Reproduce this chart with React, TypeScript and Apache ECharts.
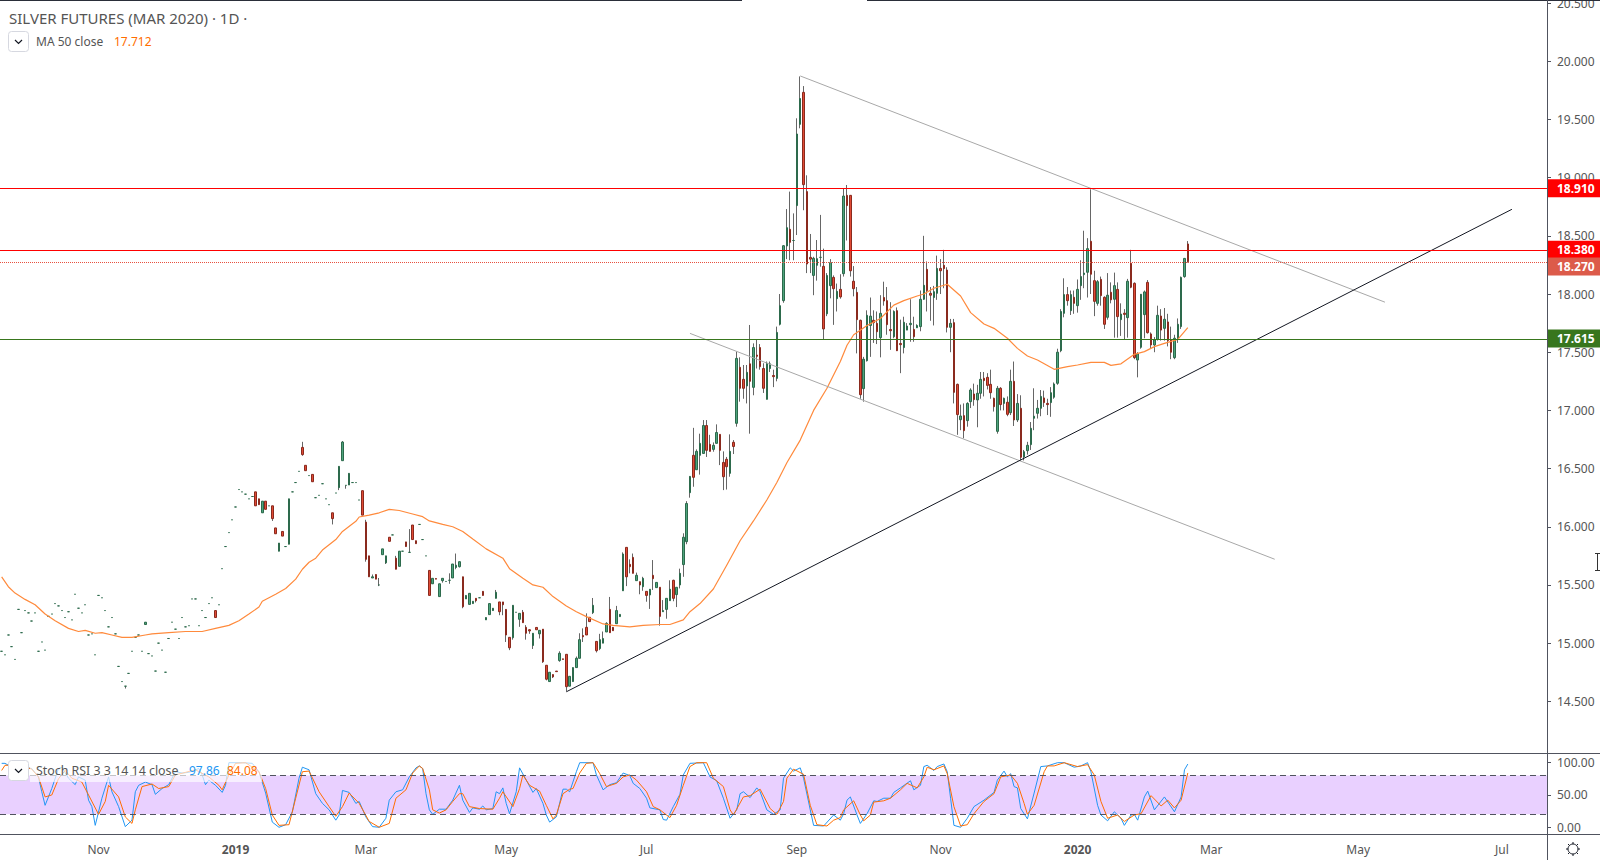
import * as echarts from 'echarts';
import { useEffect, useRef } from 'react';

const FONT = '"Noto Sans", sans-serif';

// number of daily slots on the time axis, including the empty future ones
const slotCount = 463;
const tickBars = [29, 70, 109, 151, 193, 238, 281, 322, 362, 406, 449];
const tickLabels = ['Nov', '2019', 'Mar', 'May', 'Jul', 'Sep', 'Nov', '2020', 'Mar', 'May', 'Jul'];
const priceTicks = [14.5, 15, 15.5, 16, 16.5, 17, 17.5, 18, 18.5, 19, 19.5, 20, 20.5];
const stochTicks = [0, 50, 100];

// open, close, low, high (low and high left out when there is no wick)
const bars: number[][] = [
  [14.93, 14.93], [14.9, 14.9], [15.07, 15.07], [14.97, 14.97], [14.86, 14.86], [15.29, 15.29], [15.09, 15.09], [15.28, 15.28],
  [15.26, 15.26], [15.19, 15.19], [15.26, 15.26], [14.93, 14.93], [15.01, 15.01], [14.94, 14.94], [15.23, 15.23], [15.25, 15.25],
  [15.34, 15.34], [15.32, 15.32], [15.28, 15.28], [15.22, 15.22], [15.27, 15.27], [15.2, 15.2], [15.42, 15.42], [15.3, 15.3],
  [15.26, 15.26], [15.33, 15.33], [15.07, 15.07], [15.08, 15.08], [14.9, 14.9], [15.41, 15.41], [15.39, 15.39], [15.28, 15.28],
  [15.14, 15.14], [15.22, 15.22], [15.08, 15.08], [14.8, 14.8], [14.67, 14.67], [14.63, 14.63, 14.61, 14.63], [14.74, 14.74], [14.93, 14.93],
  [15.05, 15.05], [15.07, 15.07], [14.93, 14.93], [15.16, 15.18], [14.91, 14.91], [14.89, 14.89], [14.76, 14.76], [15.0, 15.0],
  [14.94, 14.94], [14.75, 14.75], [15.04, 15.04], [15.18, 15.18], [15.12, 15.12], [15.04, 15.04], [15.22, 15.22], [15.14, 15.14],
  [15.15, 15.15], [15.38, 15.38], [15.38, 15.38], [15.15, 15.15], [15.28, 15.28], [15.22, 15.22], [15.34, 15.34], [15.39, 15.39],
  [15.28, 15.22], [15.33, 15.33], [15.64, 15.64], [15.83, 15.83], [15.95, 15.95], [16.06, 16.06], [16.17, 16.17], [16.32, 16.32],
  [16.3, 16.3], [16.28, 16.28], [16.24, 16.24], [16.26, 16.26], [16.3, 16.18], [16.24, 16.19], [16.12, 16.22], [16.22, 16.15],
  [16.18, 16.18], [16.18, 16.07, 16.05, 16.18], [15.99, 15.94], [15.79, 15.86], [15.96, 15.92], [15.83, 15.83], [15.85, 16.24], [16.3, 16.3],
  [16.38, 16.38], [16.476, 16.476], [16.682, 16.62, 16.61, 16.73], [16.528, 16.482], [16.44, 16.44], [16.45, 16.387], [16.25, 16.25], [16.27, 16.27],
  [16.37, 16.37], [16.24, 16.24], [16.19, 16.19], [16.12, 16.07, 16.02, 16.12], [16.29, 16.29], [16.336, 16.519, 16.315, 16.519], [16.568, 16.728, 16.568, 16.737], [16.356, 16.356, 16.327, 16.356],
  [16.359, 16.459], [16.38, 16.38], [16.38, 16.38], [16.23, 16.23], [16.31, 16.1], [16.04, 15.72, 15.7, 16.06], [15.75, 15.57], [15.56, 15.57, 15.56, 15.59],
  [15.59, 15.55], [15.5, 15.5, 15.49, 15.56], [15.76, 15.81], [15.69, 15.75, 15.68, 15.75], [15.91, 15.875], [15.93, 15.93], [15.73, 15.635, 15.635, 15.75], [15.66, 15.79],
  [15.79, 15.79], [15.87, 15.83], [15.78, 15.78, 15.78, 15.98], [16.015, 15.89], [15.88, 15.855], [16.02, 16.02], [15.89, 15.89], [15.75, 15.75],
  [15.625, 15.41], [15.51, 15.557], [15.555, 15.55], [15.4, 15.51], [15.537, 15.557, 15.52, 15.557], [15.53, 15.53], [15.54, 15.54, 15.51, 15.6], [15.56, 15.68],
  [15.65, 15.67, 15.635, 15.77], [15.657, 15.7, 15.65, 15.7], [15.57, 15.313, 15.3, 15.57], [15.38, 15.41], [15.333, 15.428], [15.34, 15.36], [15.385, 15.365, 15.35, 15.385], [15.39, 15.39],
  [15.445, 15.41], [15.2, 15.22], [15.245, 15.34], [15.28, 15.3], [15.385, 15.437, 15.385, 15.457], [15.354, 15.27, 15.24, 15.354], [15.354, 15.33, 15.24, 15.354], [15.29, 15.07, 15.01, 15.29],
  [15.05, 14.96, 14.94, 15.05], [15.047, 15.325, 15.03, 15.325], [15.265, 15.265], [15.205, 15.256, 15.14, 15.256], [15.265, 15.176, 15.176, 15.285], [15.136, 15.085, 15.03, 15.155], [15.115, 15.105, 15.08, 15.12], [14.98, 15.085, 14.95, 15.085],
  [15.135, 15.115], [15.08, 15.11, 15.04, 15.11], [15.12, 14.84, 14.83, 15.12], [14.81, 14.69, 14.68, 14.81], [14.67, 14.75], [14.73, 14.71, 14.7, 14.73], [14.76, 14.755], [14.85, 14.913, 14.84, 14.93],
  [14.865, 14.86], [14.904, 14.626, 14.585, 14.904], [14.63, 14.715], [14.67, 14.79], [14.79, 14.87, 14.79, 14.885], [14.87, 15.03, 14.87, 15.085], [15.065, 15.055, 15.01, 15.127], [15.136, 15.07, 15.07, 15.256],
  [15.222, 15.185], [15.262, 15.325, 15.25, 15.388], [15.015, 14.935, 14.92, 15.015], [14.953, 15.03, 14.94, 15.08], [15.0, 15.04, 15.0, 15.1], [15.096, 15.17, 15.096, 15.18], [15.29, 15.09, 15.09, 15.397], [15.136, 15.107],
  [15.167, 15.28, 15.167, 15.32], [15.228, 15.247], [15.45, 15.766, 15.45, 15.78], [15.823, 15.57, 15.49, 15.823], [15.677, 15.657, 15.6, 15.72], [15.737, 15.6, 15.6, 15.77], [15.537, 15.583, 15.537, 15.606], [15.528, 15.5, 15.42, 15.528],
  [15.485, 15.557, 15.45, 15.57], [15.445, 15.41, 15.356, 15.445], [15.414, 15.463, 15.294, 15.463], [15.583, 15.554, 15.457, 15.714], [15.477, 15.522], [15.48, 15.23, 15.15, 15.48], [15.27, 15.28, 15.27, 15.37], [15.29, 15.385, 15.21, 15.385],
  [15.365, 15.463, 15.365, 15.54], [15.54, 15.385, 15.36, 15.545], [15.417, 15.48, 15.31, 15.48], [15.5, 15.6, 15.47, 15.64], [15.675, 15.91, 15.57, 15.944], [15.872, 16.2, 15.85, 16.22], [16.293, 16.433, 16.25, 16.433], [16.614, 16.425, 16.344, 16.85],
  [16.49, 16.648, 16.49, 16.665], [16.614, 16.717, 16.448, 16.8], [16.63, 16.87, 16.63, 16.917], [16.87, 16.657, 16.6, 16.917], [16.708, 16.648, 16.648, 16.79], [16.665, 16.7, 16.645, 16.725], [16.717, 16.81, 16.717, 16.88], [16.794, 16.657, 16.53, 16.794],
  [16.553, 16.43, 16.315, 16.648], [16.58, 16.516, 16.32, 16.6], [16.459, 16.648, 16.43, 16.794], [16.726, 16.69, 16.625, 16.745], [16.889, 17.447, 16.86, 17.505], [17.37, 17.19, 17.075, 17.456], [17.267, 17.19, 17.1, 17.39], [17.21, 17.327, 17.06, 17.39],
  [17.4, 17.25, 16.8, 17.734], [17.198, 17.54, 17.13, 17.576], [17.475, 17.465, 17.36, 17.61], [17.54, 17.376, 17.35, 17.57], [17.36, 17.19, 17.15, 17.405], [17.095, 17.405, 17.095, 17.42], [17.36, 17.4, 17.33, 17.42], [17.3, 17.29, 17.2, 17.35],
  [17.275, 17.67, 17.25, 17.72], [17.74, 17.9, 17.73, 18.0], [17.943, 18.415, 17.925, 18.42], [18.413, 18.57, 18.3, 18.73], [18.556, 18.444, 18.29, 18.88], [18.46, 18.46, 18.29, 18.693], [18.76, 19.375, 18.507, 19.51], [19.458, 19.68, 19.424, 19.87],
  [19.733, 18.94, 18.72, 19.787], [18.88, 18.258, 18.18, 19.02], [18.315, 18.3, 18.18, 18.516], [18.16, 18.307, 17.99, 18.32], [18.247, 18.304, 18.115, 18.464], [18.315, 18.315, 18.235, 18.68], [18.238, 17.7, 17.61, 18.39], [17.83, 18.16, 17.81, 18.18],
  [18.072, 18.27, 17.963, 18.3], [18.143, 18.046, 17.735, 18.16], [17.96, 18.023, 17.85, 18.09], [18.04, 17.975, 17.96, 18.17], [18.175, 18.842, 18.15, 18.91], [18.848, 18.76, 18.46, 18.937], [18.848, 18.2, 18.15, 18.85], [18.11, 18.046, 17.98, 18.24],
  [18.014, 17.78, 17.49, 18.06], [17.774, 17.135, 17.1, 17.78], [17.187, 17.44, 17.075, 17.46], [17.427, 17.817, 17.42, 17.86], [17.73, 17.81, 17.46, 17.97], [17.774, 17.754, 17.58, 17.86], [17.748, 17.676, 17.57, 17.85], [17.625, 17.834, 17.456, 17.99],
  [17.97, 17.94, 17.9, 18.106], [17.943, 17.737, 17.65, 18.06], [17.695, 17.685, 17.52, 17.93], [17.633, 17.85, 17.62, 17.86], [17.857, 17.513, 17.51, 17.885], [17.575, 17.565, 17.32, 17.78], [17.54, 17.757, 17.49, 17.805], [17.69, 17.725, 17.69, 17.75],
  [17.737, 17.748, 17.59, 17.955], [17.696, 17.633, 17.59, 17.805], [17.71, 17.73, 17.71, 17.74], [17.72, 17.955, 17.68, 18.03], [17.955, 18.075, 17.95, 18.5], [18.212, 18.03, 17.85, 18.28], [18.006, 17.99, 17.77, 18.06], [17.97, 18.02, 17.73, 18.07],
  [18.006, 18.22, 17.95, 18.33], [18.22, 18.2, 18.0, 18.3], [18.247, 18.218, 18.05, 18.38], [18.206, 17.714, 17.67, 18.23], [17.714, 17.748, 17.5, 17.786], [17.754, 17.155, 17.06, 17.786], [17.224, 16.964, 16.79, 17.23], [16.92, 16.952, 16.83, 17.05],
  [16.955, 16.826, 16.76, 17.06], [16.912, 17.06, 16.86, 17.07], [17.075, 17.175, 17.02, 17.19], [17.141, 17.093, 17.04, 17.23], [17.09, 17.147, 16.855, 17.22], [17.147, 17.267, 17.1, 17.33], [17.276, 17.256, 17.12, 17.33], [17.284, 17.215, 17.18, 17.32],
  [17.224, 17.152, 17.1, 17.35], [17.104, 17.032, 16.99, 17.11], [16.82, 17.19, 16.8, 17.21], [17.19, 17.05, 17.0, 17.2], [17.06, 17.104, 17.0, 17.11], [17.07, 16.966, 16.95, 17.12], [16.98, 17.25, 16.96, 17.35], [17.25, 16.918, 16.866, 17.42],
  [16.918, 17.06, 16.9, 17.14], [17.018, 16.597, 16.57, 17.13], [16.6, 16.645, 16.57, 16.66], [16.654, 16.7, 16.62, 16.73], [16.706, 16.846, 16.66, 16.9], [16.932, 16.95, 16.83, 17.19], [16.975, 17.018, 16.93, 17.09], [17.018, 17.12, 16.95, 17.175],
  [17.107, 17.067, 17.03, 17.17], [17.06, 17.05, 16.96, 17.1], [17.067, 17.152, 16.945, 17.2], [17.113, 17.227, 17.1, 17.24], [17.233, 17.5, 17.22, 17.53], [17.513, 17.85, 17.5, 17.87], [17.834, 17.995, 17.8, 18.135], [17.995, 17.943, 17.9, 18.06],
  [17.857, 17.995, 17.82, 18.03], [17.972, 17.92, 17.83, 18.03], [17.9, 18.04, 17.84, 18.125], [18.072, 18.15, 17.95, 18.29], [18.167, 18.18, 18.05, 18.544], [18.187, 18.39, 17.97, 18.48], [18.453, 18.17, 18.0, 18.9], [18.115, 17.937, 17.81, 18.2],
  [17.92, 18.106, 17.9, 18.12], [18.126, 17.986, 17.9, 18.15], [17.972, 17.74, 17.7, 17.98], [17.8, 17.99, 17.78, 18.18], [18.015, 17.95, 17.92, 18.1], [17.955, 18.072, 17.625, 18.184], [18.04, 17.806, 17.625, 18.1], [17.78, 17.828, 17.64, 17.92],
  [17.835, 17.825, 17.605, 17.87], [17.797, 18.11, 17.625, 18.13], [18.264, 18.058, 18.05, 18.38], [18.092, 17.453, 17.44, 18.1], [17.433, 17.485, 17.284, 17.5], [17.542, 17.998, 17.53, 18.0], [17.823, 18.018, 17.62, 18.03], [18.1, 17.668, 17.66, 18.12],
  [17.657, 17.562, 17.53, 17.67], [17.562, 17.605, 17.5, 17.63], [17.61, 17.817, 17.6, 17.9], [17.811, 17.69, 17.6, 17.87], [17.705, 17.783, 17.6, 17.88], [17.76, 17.6, 17.55, 17.83], [17.605, 17.5, 17.44, 17.72], [17.453, 17.62, 17.44, 17.65],
  [17.62, 17.74, 17.58, 17.79], [17.72, 18.143, 17.7, 18.15], [18.15, 18.306, 18.14, 18.31], [18.43, 18.278, 18.27, 18.455],
];

// moving average at these bars
const maBars = [
  0, 2, 4, 7, 10, 13, 16, 20, 23, 25, 28, 30, 33, 36, 39, 43, 45, 50, 55, 60, 64, 68, 71, 74, 77, 78, 82, 85, 88, 90, 92, 94, 96, 100, 102, 106, 107, 110, 113, 116, 119,
  123, 126, 128, 132, 135, 138, 141, 145, 150, 152, 156, 159, 162, 165, 169, 172, 175, 180, 183, 188, 192, 197, 200, 204, 206, 209, 213, 217, 221, 225, 229, 232, 235, 239,
  243, 247, 251, 253, 255, 259, 263, 267, 270, 274, 276, 279, 283, 287, 290, 294, 297, 301, 304, 307, 310, 315, 319, 322, 326, 330, 332, 335, 339, 342, 345, 348, 352, 355,
];
const maValues = [
  15.57, 15.485, 15.43, 15.376, 15.33, 15.25, 15.193, 15.127, 15.1, 15.11, 15.085, 15.09, 15.07, 15.05, 15.05, 15.07, 15.08, 15.09, 15.1, 15.1, 15.127, 15.153, 15.193, 15.25, 15.31, 15.36, 15.42, 15.47, 15.55, 15.635, 15.695, 15.73, 15.8, 15.89, 15.96, 16.047, 16.084, 16.1, 16.12, 16.15, 16.14,
  16.11, 16.087, 16.05, 16.02, 16.0, 15.96, 15.895, 15.81, 15.73, 15.64, 15.557, 15.5, 15.48, 15.4, 15.32, 15.27, 15.228, 15.165, 15.153, 15.14, 15.153, 15.16, 15.16, 15.2, 15.27, 15.34, 15.465, 15.67, 15.88, 16.05, 16.23, 16.38, 16.55, 16.745,
  17.0, 17.19, 17.42, 17.56, 17.65, 17.73, 17.79, 17.905, 17.943, 17.983, 18.0, 18.05, 18.084, 17.983, 17.84, 17.743, 17.705, 17.62, 17.533, 17.467, 17.433, 17.353, 17.376, 17.39, 17.413, 17.413, 17.387, 17.4, 17.482, 17.505, 17.548, 17.576, 17.61, 17.712,
];

// stochastic RSI, [bar, value]
const stochK = [
  [0, 99], [1, 99], [2, 96], [5, 94], [9, 91], [11, 78], [12, 55], [13, 34], [15, 60], [17, 91], [18, 93], [20, 76], [22, 66], [23, 78], [25, 73], [26, 42], [27, 32], [28, 3],
  [30, 45], [32, 78], [33, 55], [35, 32], [37, 1], [39, 11], [40, 55], [41, 65], [43, 70], [45, 66], [46, 51], [48, 60], [50, 66], [52, 86], [54, 84], [56, 85], [59, 91], [60, 81],
  [61, 66], [62, 73], [64, 65], [66, 54], [67, 65], [68, 100], [72, 100], [75, 99], [77, 86], [79, 53], [81, 8], [83, 0], [85, 4], [87, 24], [89, 76], [90, 93], [92, 89], [94, 52],
  [96, 37], [98, 27], [100, 11], [101, 19], [102, 57], [104, 54], [106, 37], [107, 40], [109, 16], [111, 1], [113, 0], [115, 14], [116, 42], [118, 55], [120, 58], [122, 78], [124, 92],
  [125, 95], [126, 91], [127, 52], [128, 27], [129, 20], [131, 28], [133, 28], [135, 42], [137, 65], [138, 42], [140, 23], [141, 30], [143, 28], [144, 33], [145, 27], [147, 29], [148, 55],
  [149, 52], [150, 61], [151, 37], [152, 21], [154, 55], [155, 92], [157, 73], [159, 54], [160, 60], [162, 37], [163, 19], [164, 8], [166, 16], [168, 59], [169, 59], [170, 55], [172, 86],
  [173, 100], [177, 100], [178, 81], [180, 58], [182, 66], [184, 69], [186, 84], [188, 80], [189, 68], [191, 60], [193, 45], [194, 30], [197, 27], [198, 12], [199, 11], [201, 32], [203, 51],
  [204, 81], [206, 99], [210, 100], [212, 78], [214, 72], [216, 45], [218, 14], [220, 27], [221, 52], [222, 55], [224, 46], [226, 61], [227, 55], [229, 27], [231, 20], [233, 27], [234, 76],
  [236, 92], [237, 87], [239, 92], [240, 76], [242, 27], [243, 3], [246, 2], [249, 19], [251, 11], [252, 21], [253, 42], [254, 47], [256, 19], [257, 6], [259, 21], [261, 41], [262, 40],
  [264, 45], [266, 45], [267, 54], [269, 61], [272, 72], [273, 58], [275, 65], [276, 94], [277, 96], [279, 88], [280, 94], [282, 98], [283, 86], [284, 45], [285, 3], [287, 0], [289, 14],
  [291, 32], [294, 42], [297, 54], [298, 73], [300, 87], [301, 78], [302, 83], [303, 63], [304, 61], [305, 29], [307, 13], [309, 53], [311, 94], [313, 95], [316, 100], [318, 100], [321, 93],
  [323, 95], [325, 100], [326, 86], [328, 34], [329, 19], [331, 10], [333, 24], [335, 14], [336, 3], [338, 19], [339, 20], [340, 11], [342, 47], [343, 56], [345, 27], [348, 47], [351, 24],
  [353, 47], [354, 89], [355, 97.86],
];
const stochD = [
  [0, 88], [1, 96], [6, 96], [9, 90], [11, 78], [13, 47], [15, 50], [17, 75], [19, 88], [21, 76], [24, 70], [26, 50], [29, 20], [31, 40], [32, 65], [35, 47], [37, 16], [39, 6], [40, 27],
  [42, 63], [45, 67], [47, 60], [50, 63], [52, 81], [55, 85], [58, 89], [62, 78], [65, 65], [66, 58], [68, 81], [70, 99], [73, 100], [77, 86], [79, 60], [81, 19], [83, 3], [86, 4], [88, 45],
  [90, 86], [92, 87], [95, 55], [98, 32], [100, 17], [102, 32], [104, 53], [107, 37], [110, 9], [113, 0], [116, 6], [118, 45], [121, 58], [123, 84], [125, 95], [126, 91], [128, 58], [129, 27],
  [131, 22], [133, 27], [135, 40], [137, 52], [138, 52], [140, 32], [143, 29], [147, 28], [149, 45], [150, 55], [153, 32], [155, 60], [156, 81], [158, 65], [160, 59], [161, 56], [163, 34],
  [165, 13], [166, 19], [168, 52], [170, 59], [171, 60], [173, 84], [175, 99], [177, 100], [179, 83], [181, 63], [184, 68], [186, 78], [188, 81], [190, 73], [193, 55], [195, 32], [197, 27],
  [200, 15], [202, 34], [204, 65], [206, 94], [208, 100], [211, 100], [213, 76], [216, 63], [218, 27], [219, 19], [222, 47], [224, 49], [227, 59], [230, 29], [232, 20], [234, 40], [235, 76],
  [237, 90], [240, 82], [242, 34], [244, 4], [247, 2], [249, 11], [251, 15], [252, 27], [255, 41], [257, 19], [258, 10], [260, 19], [261, 39], [264, 41], [266, 45], [269, 58], [271, 68], [274, 61],
  [276, 78], [277, 93], [279, 89], [282, 95], [283, 83], [285, 32], [287, 2], [289, 4], [291, 21], [294, 40], [297, 52], [299, 78], [302, 81], [304, 68], [306, 37], [307, 20], [309, 34], [312, 86],
  [313, 95], [315, 95], [318, 100], [322, 94], [325, 97], [327, 81], [329, 40], [331, 14], [334, 19], [336, 9], [339, 19], [341, 21], [344, 49], [347, 33], [349, 42], [351, 30], [353, 42], [355, 84.08],
];

// drawn trend lines, [bar, price] at both ends
const supportLine = [[169, 14.582], [452, 18.728]];
const upperLine = [[239, 19.874], [414, 17.93]];
const lowerLine = [[206, 17.662], [381, 15.721]];

const levels = [
  { value: 18.91, color: '#ff0000', tag: '#ff0000', type: 'solid', offset: 0 },
  { value: 18.38, color: '#ff0000', tag: '#ff0000', type: 'solid', offset: 0 },
  { value: 18.27, color: '#e8503f', tag: '#dc5b4a', type: 'dotted', offset: 4 },
  { value: 17.615, color: '#38761d', tag: '#38761d', type: 'solid', offset: -1 },
];

const categories = Array.from({ length: slotCount }, (_, i) => {
  const k = tickBars.indexOf(i);
  return k >= 0 ? tickLabels[k] : '';
});

function buildOption(): echarts.EChartsOption {
  const wicks = bars.map((b) => {
    const low = b[2] ?? Math.min(b[0], b[1]);
    const high = b[3] ?? Math.max(b[0], b[1]);
    return [low, low, low, high];
  });
  const bodies = bars.map((b) => [b[0], b[1], Math.min(b[0], b[1]), Math.max(b[0], b[1])]);
  const axisGray = '#50535e';
  const textGray = '#555';
  const wickGray = '#666666';

  const trend = (data: number[][], color: string) => ({
    type: 'line',
    data,
    symbol: 'none',
    lineStyle: { color, width: 1 },
    z: 4,
    silent: true,
  });

  const overlay = (el: any) => ({ z: 100, silent: true, ...el });
  const line = (x1: number, y1: number, x2: number, y2: number, color = axisGray) =>
    overlay({ type: 'line', shape: { x1, y1, x2, y2 }, style: { stroke: color, lineWidth: 1 } });
  const text = (x: number, y: number, value: string, fill = textGray, fontSize = 12) =>
    overlay({ type: 'text', x, y, style: { text: value, fill, fontSize, fontFamily: FONT, verticalAlign: 'middle' } });
  const button = (x: number, y: number) => [
    overlay({ type: 'rect', shape: { x: x + 0.5, y: y + 0.5, width: 20, height: 20, r: 3 }, style: { fill: '#fff', stroke: '#d6d8e0', lineWidth: 1 } }),
    overlay({ type: 'polyline', shape: { points: [[x + 7, y + 9], [x + 10.5, y + 12.5], [x + 14, y + 9]] }, style: { fill: 'none', stroke: '#131722', lineWidth: 1.2 } }),
  ];

  return {
    animation: false,
    backgroundColor: '#fff',
    textStyle: { fontFamily: FONT },
    grid: [
      { left: 0, top: 1, width: 1547, height: 752, outerBoundsMode: 'none' },
      { left: 0, top: 753, width: 1547, height: 81, outerBoundsMode: 'none' },
    ],
    xAxis: [
      {
        type: 'category',
        gridIndex: 0,
        data: categories,
        axisLine: { show: false },
        axisTick: { show: false },
        axisLabel: { show: false },
        splitLine: { show: false },
      },
      {
        type: 'category',
        gridIndex: 1,
        data: categories,
        axisLine: { show: false },
        axisTick: {
          alignWithLabel: true,
          length: 4,
          lineStyle: { color: axisGray },
          interval: (_i: number, v: string) => v !== '',
        },
        axisLabel: {
          color: textGray,
          fontSize: 12,
          fontFamily: FONT,
          margin: 9,
          interval: (_i: number, v: string) => v !== '',
          formatter: (v: string) => (/^\d/.test(v) ? `{b|${v}}` : v),
          rich: { b: { fontWeight: 'bold', fontSize: 12, fontFamily: FONT, color: textGray } },
        },
        splitLine: { show: false },
      },
    ],
    yAxis: [
      {
        type: 'value',
        gridIndex: 0,
        position: 'right',
        min: 14.056,
        max: 20.518,
        axisLine: { show: false },
        axisTick: { show: true, length: 4, lineStyle: { color: axisGray }, customValues: priceTicks },
        axisLabel: {
          color: textGray,
          fontSize: 12,
          fontFamily: FONT,
          margin: 10,
          customValues: priceTicks,
          formatter: (v: number) => v.toFixed(3),
        },
        splitLine: { show: false },
      },
      {
        type: 'value',
        gridIndex: 1,
        position: 'right',
        min: -10.4,
        max: 115,
        axisLine: { show: false },
        axisTick: { show: true, length: 4, lineStyle: { color: axisGray }, customValues: stochTicks },
        axisLabel: {
          color: textGray,
          fontSize: 12,
          fontFamily: FONT,
          margin: 10,
          customValues: stochTicks,
          formatter: (v: number) => v.toFixed(2),
        },
        splitLine: { show: false },
      },
    ],
    series: [
      {
        type: 'candlestick',
        name: 'wicks',
        data: wicks,
        barWidth: 1,
        silent: true,
        itemStyle: { color: wickGray, color0: wickGray, borderColor: wickGray, borderColor0: wickGray, borderColorDoji: wickGray, borderWidth: 1 },
      },
      {
        type: 'candlestick',
        name: 'bodies',
        data: bodies,
        barWidth: 2,
        silent: true,
        z: 3,
        itemStyle: { color: '#4da37c', color0: '#e04a35', borderColor: '#2d6a4c', borderColor0: '#8a2a1e', borderColorDoji: '#2d6a4c', borderWidth: 1 },
        markLine: {
          silent: true,
          symbol: 'none',
          animation: false,
          data: levels.map((l) => ({
            yAxis: l.value,
            lineStyle: { color: l.color, type: l.type as any, width: 1 },
            label: {
              show: true,
              position: 'end',
              distance: 0,
              offset: [0, l.offset],
              formatter: l.value.toFixed(3),
              color: '#fff',
              fontSize: 12,
              fontFamily: FONT,
              fontWeight: 'bold',
              backgroundColor: l.tag,
              width: 43,
              height: 18,
              lineHeight: 18,
              padding: [0, 0, 0, 10],
            },
          })),
        },
      },
      {
        type: 'line',
        name: 'MA 50 close',
        data: maBars.map((bar, i) => [bar, maValues[i]]),
        symbol: 'none',
        lineStyle: { color: '#ff8a3c', width: 1.2 },
        z: 4,
        silent: true,
      },
      trend(upperLine, '#a8a8a8'),
      trend(lowerLine, '#a8a8a8'),
      trend(supportLine, '#131722'),
      {
        type: 'line',
        name: 'Stoch RSI K',
        xAxisIndex: 1,
        yAxisIndex: 1,
        data: stochK,
        symbol: 'none',
        lineStyle: { color: '#2196f3', width: 1 },
        z: 4,
        silent: true,
        markArea: {
          silent: true,
          itemStyle: { color: '#e9d0ff' },
          data: [[{ yAxis: 20 }, { yAxis: 80 }]],
        },
        markLine: {
          silent: true,
          symbol: 'none',
          label: { show: false },
          lineStyle: { color: axisGray, type: [6, 4], width: 1 },
          data: [{ yAxis: 80 }, { yAxis: 20 }],
        },
      },
      {
        type: 'line',
        name: 'Stoch RSI D',
        xAxisIndex: 1,
        yAxisIndex: 1,
        data: stochD,
        symbol: 'none',
        lineStyle: { color: '#ff6d00', width: 1 },
        z: 4,
        silent: true,
      },
    ],
    graphic: {
      elements: [
        line(0, 0.5, 742, 0.5, '#2a2e39'),
        line(867, 0.5, 1600, 0.5, '#2a2e39'),
        line(0, 753.5, 1600, 753.5),
        line(0, 834.5, 1600, 834.5),
        line(1547.5, 0, 1547.5, 860),
        text(9, 18, 'SILVER FUTURES (MAR 2020) · 1D ·', textGray, 15),
        ...button(8, 31),
        text(36, 41.5, 'MA 50 close'),
        text(114, 41.5, '17.712', '#ff6d00'),
        overlay({ type: 'rect', shape: { x: 30, y: 760, width: 232, height: 22 }, style: { fill: 'rgba(255,255,255,0.65)' } }),
        ...button(8, 760),
        text(36, 770.5, 'Stoch RSI 3 3 14 14 close', textGray, 12.4),
        text(189, 770.5, '97.86', '#2196f3'),
        text(227, 770.5, '84.08', '#ff6d00'),
        // mouse cursor caught at the right edge of the screenshot
        line(1597.5, 554, 1597.5, 570, '#333'),
        line(1595, 553.5, 1600, 553.5, '#333'),
        line(1595, 570.5, 1600, 570.5, '#333'),
        overlay({
          type: 'gear',
          x: 1565,
          y: 841,
          style: { fill: 'none', stroke: '#131722', lineWidth: 1 },
        }),
      ],
    },
  } as echarts.EChartsOption;
}

echarts.graphic.registerShape(
  'gear',
  echarts.graphic.extendPath(
    'M8 1V3M8 13V15M1 8H3M13 8H15M3 3L4.5 4.5M11.5 11.5L13 13M3 13L4.5 11.5M11.5 4.5L13 3M8 3A5 5 0 1 1 7.99 3Z',
    {},
  ) as any,
);

export default function App() {
  const container = useRef<HTMLDivElement | null>(null);

  useEffect(() => {
    if (!container.current) return;
    const chart = echarts.init(container.current, undefined, { renderer: 'svg' });
    chart.setOption(buildOption());
    return () => {
      chart.dispose();
    };
  }, []);

  return (
    <div
      ref={container}
      style={{ position: 'fixed', left: 0, top: 0, width: 1600, height: 860 }}
    />
  );
}
